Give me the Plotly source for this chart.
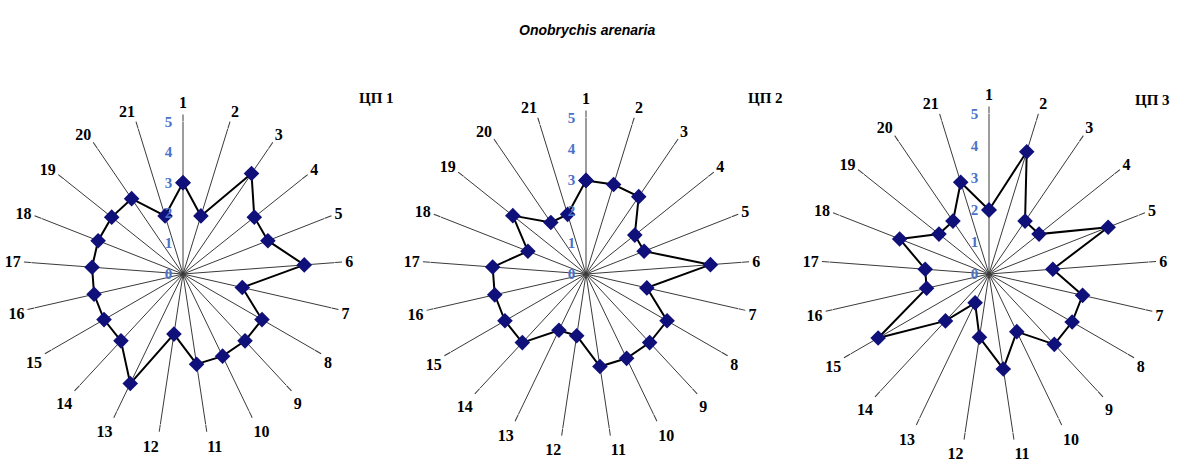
import plotly.graph_objects as go

# Criteria 1..21 and scores for the three sites
criteria = [str(i) for i in range(1, 22)]
cp1 = [3, 2, 4, 3, 3, 4, 2, 3, 3, 3, 3, 2, 4, 3, 3, 3, 3, 3, 3, 3, 2]
cp2 = [3, 3, 3, 2, 2, 4, 2, 3, 3, 3, 3, 2, 2, 3, 3, 3, 3, 2, 3, 2, 2]
cp3 = [2, 4, 2, 2, 4, 2, 3, 3, 3, 2, 3, 2, 1, 2, 4, 2, 2, 3, 2, 2, 3]
site_names = ["ЦП 1", "ЦП 2", "ЦП 3"]
radial_ticks = [0, 1, 2, 3, 4, 5]

W, H = 1197, 465
# centre (px) and radius (px) of each radar
centres = [(183, 274), (586, 274), (989, 274)]
radii = [152, 156, 160]

fig = go.Figure()
serif = "Liberation Serif, Times New Roman, serif"

for i, (vals, name) in enumerate(zip([cp1, cp2, cp3], site_names)):
    pid = "polar" if i == 0 else f"polar{i+1}"
    fig.add_trace(go.Scatterpolar(
        r=vals + vals[:1],
        theta=criteria + criteria[:1],
        mode="lines+markers",
        line=dict(color="black", width=2),
        marker=dict(symbol="diamond", size=12, color="#10107a",
                    line=dict(color="#10107a", width=0)),
        subplot=pid,
        showlegend=False,
        hoverinfo="r+theta",
    ))
    cx, cy = centres[i]
    rad = radii[i]
    dom = dict(
        x=[(cx - rad) / W, (cx + rad) / W],
        y=[1 - (cy + rad) / H, 1 - (cy - rad) / H],
    )
    fig.layout[pid] = dict(
        domain=dom,
        bgcolor="white",
        radialaxis=dict(
            range=[0, 5],
            tickvals=radial_ticks,
            ticktext=[str(t) for t in radial_ticks],
            angle=90,
            tickangle=90,
            side="counterclockwise",
            showline=False,
            showgrid=False,
            ticks="outside",
            ticklen=5,
            tickcolor="rgba(0,0,0,0)",
            tickfont=dict(family=serif, size=15, color="#4a72c8", weight="bold"),
        ),
        angularaxis=dict(
            categoryorder="array",
            categoryarray=criteria,
            direction="clockwise",
            rotation=90,
            showline=False,
            showgrid=True,
            gridcolor="#3a3a3a",
            gridwidth=1,
            ticks="outside",
            ticklen=7,
            tickcolor="#3a3a3a",
            tickfont=dict(family=serif, size=16, color="black", weight="bold"),
        ),
    )

# Site labels in the upper right corner of each radar
site_pos = [(357, 88), (765, 88), (1172, 90)]
for name, (x, y) in zip(site_names, site_pos):
    fig.add_annotation(
        x=x / W, y=1 - y / H, xref="paper", yref="paper",
        text=f"<b>{name}</b>", showarrow=False,
        font=dict(family=serif, size=15, color="black"),
    )

fig.add_annotation(
    x=587 / W, y=1 - 20 / H, xref="paper", yref="paper",
    text="<b><i>Onobrychis arenaria</i></b>", showarrow=False,
    font=dict(family="Liberation Sans, Arial, sans-serif", size=14, color="black"),
)

fig.update_layout(
    width=W, height=H,
    margin=dict(l=0, r=0, t=0, b=0),
    paper_bgcolor="white",
    plot_bgcolor="white",
)

fig.write_html("out.html")
